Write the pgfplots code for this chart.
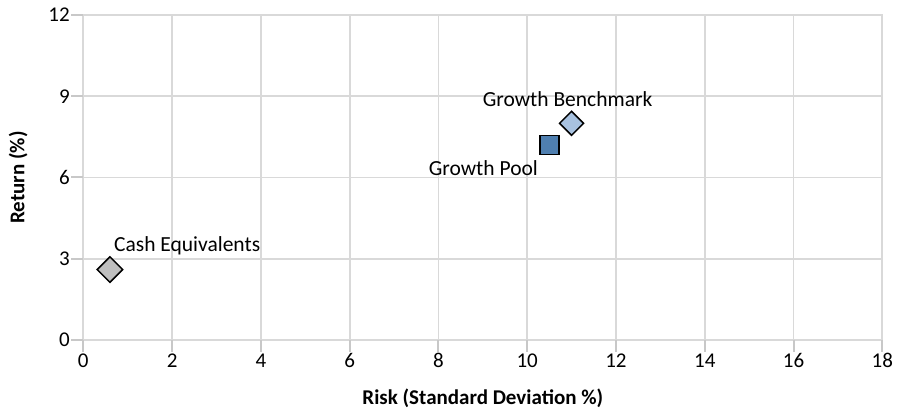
\documentclass[border=0pt]{standalone}
\usepackage{fontspec}
\setmainfont{Carlito}
\usepackage{pgfplots}
\pgfplotsset{compat=1.18}
\definecolor{gridgray}{RGB}{217,217,217}
\definecolor{tickgray}{RGB}{200,200,200}
\definecolor{cashfill}{RGB}{191,191,191}
\definecolor{poolfill}{RGB}{79,127,176}
\definecolor{benchfill}{RGB}{168,194,224}
\begin{document}
\begin{tikzpicture}
\begin{axis}[
  at={(0,0)}, anchor=origin,
  width=799pt, height=325pt, scale only axis,
  xmin=0, xmax=18, ymin=0, ymax=12,
  xtick={0,2,...,18}, ytick={0,3,...,12},
  grid=major,
  major grid style={gridgray, line width=1.8pt},
  axis line style={gridgray, line width=1.8pt},
  major tick length=0pt,
  xtick pos=left, ytick pos=left,
  /pgf/number format/assume math mode=true,
  tick label style={font=\fontsize{21}{25}\selectfont, text=black},
  yticklabel style={xshift=-10pt},
  xticklabel style={yshift=-10pt},
  xlabel={\textbf{Risk (Standard Deviation \%)}},
  ylabel={\textbf{Return (\%)}},
  label style={font=\fontsize{21}{25}\selectfont},
  xlabel style={at={(axis description cs:0.5,-0.1785)}, anchor=center},
  ylabel style={at={(axis description cs:-0.0814,0.5)}, anchor=center},
  clip=false,
]
\draw[tickgray, line width=2pt] (axis cs:0,0) -- ++(0,-12pt);
\draw[tickgray, line width=2pt] (axis cs:2,0) -- ++(0,-12pt);
\draw[tickgray, line width=2pt] (axis cs:4,0) -- ++(0,-12pt);
\draw[tickgray, line width=2pt] (axis cs:6,0) -- ++(0,-12pt);
\draw[tickgray, line width=2pt] (axis cs:8,0) -- ++(0,-12pt);
\draw[tickgray, line width=2pt] (axis cs:10,0) -- ++(0,-12pt);
\draw[tickgray, line width=2pt] (axis cs:12,0) -- ++(0,-12pt);
\draw[tickgray, line width=2pt] (axis cs:14,0) -- ++(0,-12pt);
\draw[tickgray, line width=2pt] (axis cs:16,0) -- ++(0,-12pt);
\draw[tickgray, line width=2pt] (axis cs:18,0) -- ++(0,-12pt);
\draw[tickgray, line width=2pt] (axis cs:0,0) -- ++(-12pt,0);
\draw[tickgray, line width=2pt] (axis cs:0,3) -- ++(-12pt,0);
\draw[tickgray, line width=2pt] (axis cs:0,6) -- ++(-12pt,0);
\draw[tickgray, line width=2pt] (axis cs:0,9) -- ++(-12pt,0);
\draw[tickgray, line width=2pt] (axis cs:0,12) -- ++(-12pt,0);
\addplot[only marks, mark=square*, mark size=9pt, mark options={rotate=45, fill=cashfill, draw=black, line width=1.5pt}] coordinates {(0.6,2.6)};
\addplot[only marks, mark=square*, mark size=9.5pt, mark options={fill=poolfill, draw=black, line width=1.5pt}] coordinates {(10.5,7.2)};
\addplot[only marks, mark=square*, mark size=8.5pt, mark options={rotate=45, fill=benchfill, draw=black, line width=1.5pt}] coordinates {(11.0,8.0)};
\node[anchor=west, font=\fontsize{21.5}{25}\selectfont, inner sep=0pt] at (axis cs:0.6,2.6) [xshift=4pt, yshift=24pt] {Cash Equivalents};
\node[anchor=center, font=\fontsize{21.5}{25}\selectfont, inner sep=0pt] at (axis cs:11.0,8.0) [xshift=-4pt, yshift=24pt] {Growth Benchmark};
\node[anchor=center, font=\fontsize{21.5}{25}\selectfont, inner sep=0pt] at (axis cs:10.5,7.2) [xshift=-66pt, yshift=-23pt] {Growth Pool};
\end{axis}
\pgfresetboundingbox
\path[use as bounding box] (-83.3pt,-75pt) rectangle (821.7pt,340pt);
\end{tikzpicture}
\end{document}
